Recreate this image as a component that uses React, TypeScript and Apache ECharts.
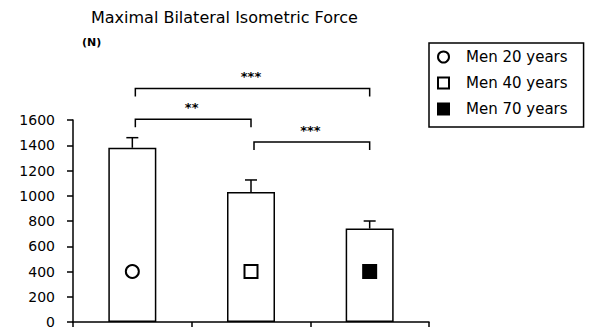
import React, { useEffect, useRef } from "react";
import * as echarts from "echarts";

const TITLE = "Maximal Bilateral Isometric Force";
const UNIT = "(N)";
const CATEGORIES = ["Men 20 years", "Men 40 years", "Men 70 years"];
const FORCE_MEAN = [1380, 1030, 740];
const FORCE_ERR_TOP = [1460, 1125, 800];
const MARKER_LEVEL = 400;
const MARKER_SYMBOLS = ["circle", "rect", "rect"];
const MARKER_FILLS = ["#ffffff", "#ffffff", "#000000"];
const Y_MIN = 0;
const Y_MAX = 1600;
const Y_STEP = 200;
const BRACKET_FROM = [0, 0, 1];
const BRACKET_TO = [2, 1, 2];
const BRACKET_LEVEL = [1850, 1605, 1425];
const BRACKET_LABELS = ["***", "**", "***"];

const FONT = "DejaVu Sans";

export default function App() {
  const ref = useRef<HTMLDivElement>(null);
  useEffect(() => {
    document.body.style.margin = "0";
    const chart = echarts.init(ref.current!, undefined, { renderer: "svg" });
    const option: any = {
      animation: false,
      backgroundColor: "#ffffff",
      title: {
        text: TITLE,
        left: 91,
        top: 9,
        padding: 0,
        textStyle: { fontFamily: FONT, fontSize: 16, fontWeight: "normal", color: "#000" },
      },
      legend: {
        orient: "vertical",
        left: 429,
        top: 43,
        padding: [6, 16, 10, 8],
        itemGap: 10,
        itemWidth: 11,
        itemHeight: 11,
        borderColor: "#000",
        borderWidth: 1.5,
        selectedMode: false,
        textStyle: { fontFamily: FONT, fontSize: 15, color: "#000", lineHeight: 16, padding: [0, 0, 0, 12] },
        data: CATEGORIES,
      },
      grid: { left: 73, right: 162, top: 120, bottom: 6, containLabel: false },
      xAxis: {
        type: "category",
        data: CATEGORIES,
        boundaryGap: true,
        axisLine: { show: true, lineStyle: { color: "#000", width: 1.5 } },
        axisTick: { show: true, alignWithLabel: false, length: 5, lineStyle: { color: "#000", width: 1.5 } },
        axisLabel: { show: false },
        splitLine: { show: false },
      },
      yAxis: {
        type: "value",
        min: Y_MIN,
        max: Y_MAX,
        interval: Y_STEP,
        name: UNIT,
        nameLocation: "end",
        nameGap: 72,
        nameTextStyle: {
          fontFamily: FONT,
          fontSize: 11,
          fontWeight: "bold",
          color: "#000",
          align: "left",
          padding: [0, 0, 0, 9],
        },
        axisLine: { show: true, lineStyle: { color: "#000", width: 1.5 } },
        axisTick: { show: true, length: 6, lineStyle: { color: "#000", width: 1.5 } },
        axisLabel: {
          margin: 18,
          fontFamily: FONT,
          fontSize: 14,
          color: "#000",
          formatter: (v: number) => String(v),
        },
        splitLine: { show: false },
      },
      series: [
        {
          type: "bar",
          name: "Force",
          data: FORCE_MEAN,
          barWidth: 48,
          itemStyle: { color: "#ffffff", borderColor: "#000", borderWidth: 1.5 },
          z: 2,
        },
        {
          type: "custom",
          name: "error",
          clip: false,
          z: 3,
          encode: { x: 0, y: [1, 2] },
          data: FORCE_MEAN.map((v, i) => [i, v, FORCE_ERR_TOP[i]]),
          renderItem: (params: any, api: any) => {
            const i = api.value(0);
            const p0 = api.coord([i, api.value(1)]);
            const p1 = api.coord([i, api.value(2)]);
            const half = 6;
            return {
              type: "group",
              children: [
                { type: "line", shape: { x1: p0[0], y1: p0[1], x2: p1[0], y2: p1[1] }, style: { stroke: "#000", lineWidth: 1.5 } },
                { type: "line", shape: { x1: p1[0] - half, y1: p1[1], x2: p1[0] + half, y2: p1[1] }, style: { stroke: "#000", lineWidth: 1.5 } },
              ],
            };
          },
        },
        {
          type: "custom",
          name: "significance",
          clip: false,
          z: 3,
          encode: { x: 0, y: 1 },
          data: BRACKET_FROM.map((f, i) => [f, BRACKET_LEVEL[i], BRACKET_TO[i]]),
          renderItem: (params: any, api: any) => {
            const a = api.coord([api.value(0), api.value(1)]);
            const b = api.coord([api.value(2), api.value(1)]);
            const y = a[1];
            const drop = 8;
            return {
              type: "group",
              children: [
                {
                  type: "polyline",
                  shape: { points: [[a[0] + 3, y + drop], [a[0] + 3, y], [b[0], y], [b[0], y + drop]] },
                  style: { stroke: "#000", lineWidth: 1.5, fill: null },
                },
                {
                  type: "text",
                  style: {
                    text: BRACKET_LABELS[params.dataIndex],
                    x: (a[0] + b[0]) / 2,
                    y: y - 12,
                    align: "center",
                    verticalAlign: "middle",
                    fontFamily: FONT,
                    fontSize: 13,
                    fontWeight: "bold",
                    fill: "#000",
                  },
                },
              ],
            };
          },
        },
        ...CATEGORIES.map((name, i) => ({
          type: "scatter",
          name,
          data: [[i, MARKER_LEVEL]],
          symbol: MARKER_SYMBOLS[i],
          symbolSize: 13,
          z: 4,
          itemStyle: { color: MARKER_FILLS[i], borderColor: "#000", borderWidth: 2, opacity: 1 },
        })),
      ],
    };
    chart.setOption(option);
    return () => chart.dispose();
  }, []);
  return (
    <div
      ref={ref}
      style={{ position: "fixed", left: 0, top: 0, width: 591, height: 329, background: "#fff" }}
    />
  );
}
